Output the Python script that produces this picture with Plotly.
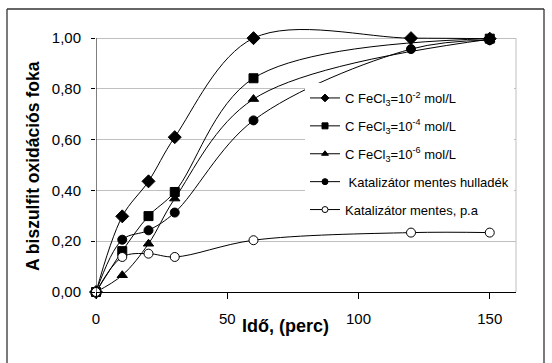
import plotly.graph_objects as go

time_min = [0, 10, 20, 30, 60, 120, 150]
time_min_short = [0, 10, 20, 30, 60, 150]
fecl3_1e2 = [0.00, 0.298, 0.436, 0.610, 1.000, 1.000, 0.998]
fecl3_1e4 = [0.00, 0.161, 0.299, 0.394, 0.842, 0.998]
fecl3_1e6 = [0.00, 0.066, 0.190, 0.368, 0.760, 0.996]
kat_hull = [0.00, 0.206, 0.243, 0.313, 0.676, 0.957, 0.992]
kat_pa = [0.00, 0.138, 0.151, 0.138, 0.204, 0.234, 0.234]

names = ["C FeCl<sub>3</sub>=10<sup>-2</sup> mol/L",
         "C FeCl<sub>3</sub>=10<sup>-4</sup> mol/L",
         "C FeCl<sub>3</sub>=10<sup>-6</sup> mol/L",
         " Katalizátor mentes hulladék",
         "Katalizátor mentes, p.a"]
xs = [time_min, time_min_short, time_min_short, time_min, time_min]
series = [fecl3_1e2, fecl3_1e4, fecl3_1e6, kat_hull, kat_pa]
symbols = ["diamond", "square", "triangle-up", "circle", "circle"]
sizes = [10, 9, 9, 9, 9]
fills = ["black", "black", "black", "black", "white"]
leg_sizes = [6, 6, 6, 6, 6]

fig = go.Figure()
for i, ys in enumerate(series):
    fig.add_trace(go.Scatter(
        x=xs[i], y=ys, mode="lines+markers", showlegend=False,
        line=dict(color="black", width=1, shape="spline", smoothing=1.0),
        marker=dict(symbol=symbols[i], size=sizes[i], color=fills[i],
                    line=dict(color="black", width=1)),
        cliponaxis=False))
for i in range(len(series)):
    fig.add_trace(go.Scatter(
        x=[None], y=[None], mode="lines+markers", name=names[i],
        legendgroup="g%d" % i,
        line=dict(color="black", width=1),
        marker=dict(symbol=symbols[i], size=leg_sizes[i], color=fills[i],
                    line=dict(color="black", width=1))))

# plot frame pieces (gray right border, black y axis up to 1.0)
fig.add_shape(type="line", xref="paper", yref="y", x0=1, x1=1, y0=0, y1=1,
              line=dict(color="#c0c0c0", width=1))
fig.add_shape(type="line", xref="x", yref="y", x0=0, x1=0, y0=0, y1=1,
              line=dict(color="black", width=1), layer="above")
# outer chart border (left, top, right; bottom lies below the visible page)
bx0, bx1 = (7 - 96) / 420, (544 - 96) / 420
by0, by1 = (292 - 380) / 264, (292 - 9) / 264
for (a, b, c, d) in [(bx0, by0, bx0, by1), (bx0, by1, bx1, by1), (bx1, by1, bx1, by0)]:
    fig.add_shape(type="line", xref="paper", yref="paper", x0=a, y0=b, x1=c, y1=d,
                  line=dict(color="#333333", width=1.3))

fig.add_annotation(text="<b>Idő, (perc)</b>", xref="paper", yref="paper",
                   x=(285 - 96) / 420, y=(292 - 326) / 264, showarrow=False,
                   xanchor="center", yanchor="middle",
                   font=dict(family="Liberation Sans, Arial", size=18, color="black"))
fig.add_annotation(text="<b>A biszulfit oxidációs foka</b>", xref="paper", yref="paper",
                   x=(33 - 96) / 420, y=(292 - 166) / 264, showarrow=False,
                   textangle=-90, xanchor="center", yanchor="middle",
                   font=dict(family="Liberation Sans, Arial", size=17.5, color="black"))

fig.update_layout(
    width=552, height=363,
    margin=dict(l=96, r=36, t=28, b=71),
    paper_bgcolor="white", plot_bgcolor="white",
    separators=",.",
    font=dict(family="Liberation Sans, Arial", size=15, color="black"),
    legend=dict(x=(305 - 96) / 420, y=(292 - 83) / 264, xanchor="left", yanchor="top",
                bgcolor="white", borderwidth=0,
                font=dict(family="Liberation Sans, Arial", size=13, color="black"),
                traceorder="grouped", tracegroupgap=8, itemwidth=30),
    xaxis=dict(range=[0, 160], tickvals=[0, 50, 100, 150], ticktext=["0", "50", "100", "150"],
               showgrid=False, zeroline=False, showline=True, linecolor="black",
               linewidth=1, ticks="outside", ticklen=6, tickcolor="black",
               ticklabelstandoff=7),
    yaxis=dict(range=[0, 1.04], tickvals=[0, 0.2, 0.4, 0.6, 0.8, 1.0], tickformat=".2f",
               showgrid=True, gridcolor="#c0c0c0", gridwidth=1, zeroline=False,
               showline=False, ticks="outside", ticklen=4, tickcolor="black",
               ticklabelstandoff=7),
)
fig.write_html("out.html", config={"displayModeBar": False},
               post_script="document.body.style.margin='0';")
